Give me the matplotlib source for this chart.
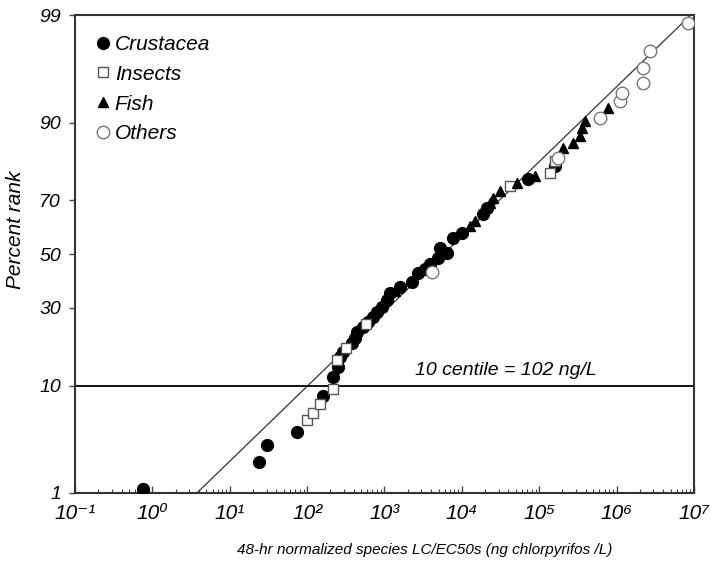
import math
import numpy as np
import matplotlib
matplotlib.use("Agg")
import matplotlib.pyplot as plt
from matplotlib.ticker import FixedLocator, FuncFormatter, NullFormatter

plt.rcParams['font.family'] = ['Liberation Sans', 'DejaVu Sans']
plt.rcParams['font.style'] = 'italic'

# data (LC/EC50 in ng/L, percent rank)
crust_x = [0.76, 23.8, 30.3, 73.8, 160, 215, 250, 265, 290, 379, 415, 440, 526, 611, 708,
           798, 925, 1074, 1175, 1581, 2259, 2702, 3327, 3864, 4898, 5200, 6397, 7650,
           10000, 18670, 21040, 71290, 159200]
crust_y = [1.11, 2.14, 3.14, 4.15, 8.32, 11.5, 13.5, 15.7, 16.9, 19.2, 20.6, 22.3, 23.8, 25.3,
           26.9, 28.5, 30.2, 32.6, 35.1, 37.3, 39.1, 42.5, 44.4, 46.3, 48.6, 52.5, 50.6, 56.4,
           58.3, 65.3, 67.4, 76.8, 80.5]
insect_x = [99, 119, 146, 215, 243, 317, 575, 41690, 137000, 159200]
insect_y = [5.29, 6.07, 7.19, 9.41, 15.0, 17.9, 24.7, 74.7, 78.6, 81.8]
fish_x = [1363, 12690, 14720, 23000, 25180, 30970, 51400, 87700, 201800, 271700, 334800,
          355000, 388200, 769000]
fish_y = [36.1, 60.9, 62.7, 69.2, 70.8, 73.1, 75.6, 77.7, 84.9, 86.1, 87.5, 89.0, 90.3, 92.3]
other_x = [4095, 173800, 606700, 1.1e6, 1.167e6, 2.18e6, 2.18e6, 2.69e6, 8.3e6]
other_y = [42.9, 82.6, 90.8, 93.2, 94.2, 95.2, 96.5, 97.6, 98.77]

# log-normal fit: mean and sd of log10 values
fit_mu = 3.766
fit_sigma = 1.371
centile_10 = 10

y_ticks = [1, 10, 30, 50, 70, 90, 99]
x_exps = list(range(-1, 8))
SUP = str.maketrans('-0123456789', '⁻⁰¹²³⁴⁵⁶⁷⁸⁹')


def norm_cdf(z):
    z = np.asarray(z, dtype=float)
    return 0.5 * (1 + np.vectorize(math.erf)(z / math.sqrt(2)))


def norm_ppf(p):
    # Acklam's rational approximation
    p = np.clip(np.asarray(p, dtype=float), 1e-12, 1 - 1e-12)
    a = [-3.969683028665376e+01, 2.209460984245205e+02, -2.759285104469687e+02,
         1.383577518672690e+02, -3.066479806614716e+01, 2.506628277459239e+00]
    b = [-5.447609879822406e+01, 1.615858368580409e+02, -1.556989798598866e+02,
         6.680131188771972e+01, -1.328068155288572e+01]
    c = [-7.784894002430293e-03, -3.223964580411365e-01, -2.400758277161838e+00,
         -2.549732539343734e+00, 4.374664141464968e+00, 2.938163982698783e+00]
    d = [7.784695709041462e-03, 3.224671290700398e-01, 2.445134137142996e+00,
         3.754408661907416e+00]
    plow = 0.02425
    out = np.empty_like(p)
    lo = p < plow
    hi = p > 1 - plow
    mid = ~(lo | hi)
    q = np.sqrt(-2 * np.log(p[lo]))
    out[lo] = (((((c[0]*q+c[1])*q+c[2])*q+c[3])*q+c[4])*q+c[5]) / ((((d[0]*q+d[1])*q+d[2])*q+d[3])*q+1)
    q = p[mid] - 0.5
    r = q * q
    out[mid] = (((((a[0]*r+a[1])*r+a[2])*r+a[3])*r+a[4])*r+a[5])*q / (((((b[0]*r+b[1])*r+b[2])*r+b[3])*r+b[4])*r+1)
    q = np.sqrt(-2 * np.log(1 - p[hi]))
    out[hi] = -(((((c[0]*q+c[1])*q+c[2])*q+c[3])*q+c[4])*q+c[5]) / ((((d[0]*q+d[1])*q+d[2])*q+d[3])*q+1)
    return out


def fwd(pct):
    return norm_ppf(np.asarray(pct, dtype=float) / 100.0)


def inv(z):
    return 100.0 * norm_cdf(z)


fig = plt.figure(figsize=(7.11, 5.64), dpi=100)
ax = fig.add_axes([0.1055, 0.126, 0.8705, 0.847])
ax.set_xscale('log')
ax.set_yscale('function', functions=(fwd, inv))
ax.set_xlim(0.1, 1e7)
ax.set_ylim(1, 99)

# fitted line
zz = fwd([1, 99])
fx = 10 ** (fit_mu + fit_sigma * zz)
ax.plot(fx, [1, 99], color='#333333', lw=0.9, zorder=2)
ax.axhline(centile_10, color='black', lw=1.3, zorder=2)

ax.plot(crust_x, crust_y, 'o', ms=8.5, mfc='black', mec='black', ls='none', label='Crustacea', zorder=3)
ax.plot(insect_x, insect_y, 's', ms=6.5, mfc='white', mec='#555555', mew=1, ls='none', label='Insects', zorder=3)
ax.plot(fish_x, fish_y, '^', ms=7.5, mfc='black', mec='black', ls='none', label='Fish', zorder=3)
ax.plot(other_x, other_y, 'o', ms=9, mfc='white', mec='#777777', mew=1, ls='none', label='Others', zorder=3)

ax.text(2470, 12.9, '10 centile = 102 ng/L', fontsize=14, ha='left', va='center')

ax.yaxis.set_major_locator(FixedLocator(y_ticks))
ax.yaxis.set_minor_locator(FixedLocator([]))
ax.yaxis.set_major_formatter(FuncFormatter(lambda v, p: f'{v:g}'))
ax.xaxis.set_major_locator(FixedLocator([10.0 ** e for e in x_exps]))
ax.xaxis.set_minor_locator(FixedLocator([m * 10.0 ** e for e in x_exps[:-1] for m in range(2, 10)]))
ax.xaxis.set_minor_formatter(NullFormatter())
ax.xaxis.set_major_formatter(FuncFormatter(
    lambda v, p: '10' + str(int(round(math.log10(v)))).translate(SUP)))

ax.tick_params(axis='y', direction='out', length=4, width=1, labelsize=14, pad=6, color='#444444')
ax.tick_params(axis='x', which='major', direction='in', length=5, width=1, labelsize=15, pad=8, color='#444444')
ax.tick_params(axis='x', which='minor', direction='in', length=3, width=0.8, color='#444444')
for s in ax.spines.values():
    s.set_color('#333333')
    s.set_linewidth(1.5)

ax.set_ylabel('Percent rank', fontsize=15)
ax.yaxis.set_label_coords(-0.081, 0.55)
ax.set_xlabel('48-hr normalized species LC/EC50s (ng chlorpyrifos /L)', fontsize=11)
ax.xaxis.set_label_coords(0.565, -0.105)

ax.legend(loc='upper left', bbox_to_anchor=(0.012, 0.985), frameon=False, fontsize=15,
          handletextpad=0.15, labelspacing=0.52, handlelength=0.8, borderaxespad=0.2)

fig.savefig('out.png', dpi=100)
